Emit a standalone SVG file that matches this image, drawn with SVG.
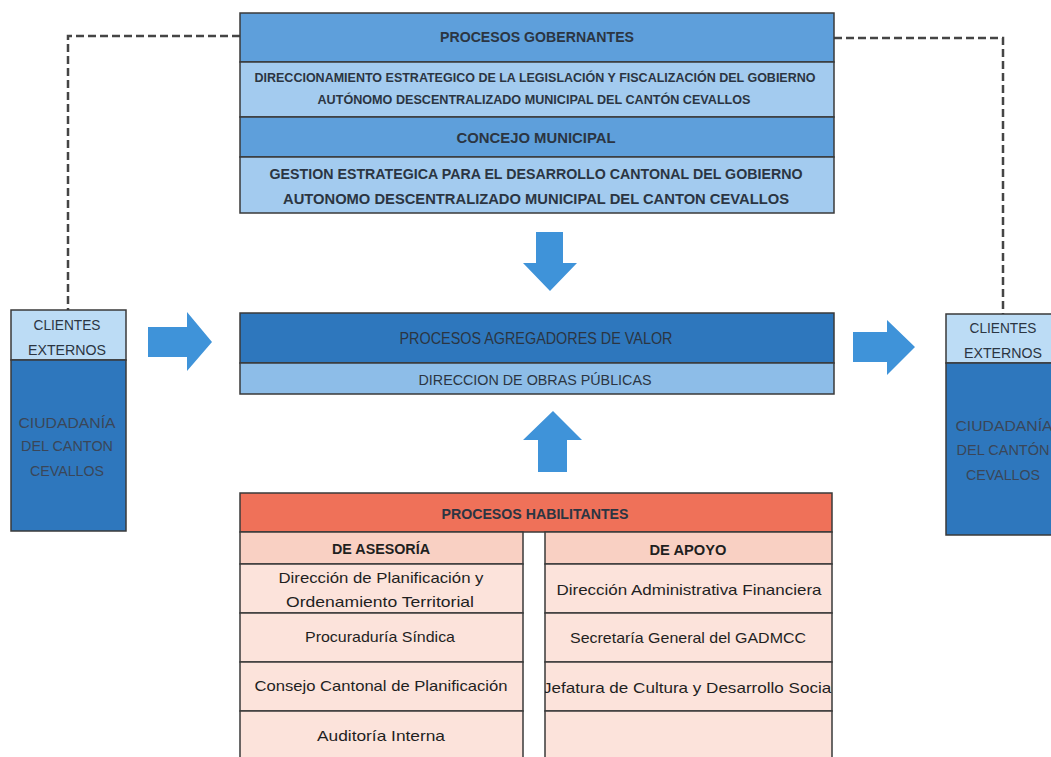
<svg xmlns="http://www.w3.org/2000/svg" width="1051" height="757" viewBox="0 0 1051 757">
<defs>
<style>
.b{stroke:#3a3a3a;stroke-width:1.5}
.t{font-family:"Liberation Sans","DejaVu Sans",sans-serif;text-anchor:middle;fill:#2b3542}
.bold{font-weight:bold}
.dash{fill:none;stroke:#454545;stroke-width:2.5;stroke-dasharray:8 4}
.arr{fill:#3f93d9}
.row{fill:#fce3db}
.sub{fill:#f9d0c3}
.tb{fill:#1f1f1f}
.ct{fill:#3a4658}
</style>
<clipPath id="cl"><rect x="545" y="662" width="287" height="49"/></clipPath>
</defs>
<rect width="1051" height="757" fill="#ffffff"/>

<g id="connectors">
<path class="dash" d="M240,36 H68 V310"/>
<path class="dash" d="M834,38 H1003 V314"/>
<polygon class="arr" points="536,232 563,232 563,263 577,263 550,291 523,263 536,263"/>
<polygon class="arr" points="538,472 567,472 567,440 582,440 553,411 523,440 538,440"/>
<polygon class="arr" points="148,327 187,327 187,312 212,342 187,371 187,357 148,357"/>
<polygon class="arr" points="853,332 887,332 887,320 915,347 887,375 887,362 853,362"/>
</g>

<g id="gobernantes">
<rect class="b" x="240" y="13" width="594" height="49" fill="#5e9fdb"/>
<rect class="b" x="240" y="62" width="594" height="55" fill="#a3cbef"/>
<rect class="b" x="240" y="117" width="594" height="40" fill="#5e9fdb"/>
<rect class="b" x="240" y="157" width="594" height="56" fill="#a3cbef"/>
<text class="t bold" x="537" y="42" font-size="14.5" textLength="194" lengthAdjust="spacingAndGlyphs">PROCESOS GOBERNANTES</text>
<text class="t bold" x="535" y="82" font-size="13.5" textLength="561" lengthAdjust="spacingAndGlyphs">DIRECCIONAMIENTO ESTRATEGICO DE LA LEGISLACIÓN Y FISCALIZACIÓN DEL GOBIERNO</text>
<text class="t bold" x="534" y="104" font-size="13.5" textLength="433" lengthAdjust="spacingAndGlyphs">AUTÓNOMO DESCENTRALIZADO MUNICIPAL DEL CANTÓN CEVALLOS</text>
<text class="t bold" x="536" y="143" font-size="15" textLength="159" lengthAdjust="spacingAndGlyphs">CONCEJO MUNICIPAL</text>
<text class="t bold" x="536" y="179" font-size="15.5" textLength="533" lengthAdjust="spacingAndGlyphs">GESTION ESTRATEGICA PARA EL DESARROLLO CANTONAL DEL GOBIERNO</text>
<text class="t bold" x="536" y="204" font-size="15.5" textLength="506" lengthAdjust="spacingAndGlyphs">AUTONOMO DESCENTRALIZADO MUNICIPAL DEL CANTON CEVALLOS</text>
</g>

<g id="agregadores">
<rect class="b" x="240" y="313" width="594" height="50" fill="#2e77bd"/>
<rect class="b" x="240" y="363" width="594" height="31" fill="#8dbde8"/>
<text class="t" x="536" y="344" font-size="16" textLength="273" lengthAdjust="spacingAndGlyphs">PROCESOS AGREGADORES DE VALOR</text>
<text class="t" x="535" y="385" font-size="15" textLength="233" lengthAdjust="spacingAndGlyphs">DIRECCION DE OBRAS PÚBLICAS</text>
</g>

<g id="clientes-izq">
<rect class="b" x="11" y="310" width="115" height="50" fill="#bcdcf5"/>
<rect class="b" x="11" y="360" width="115" height="171" fill="#2e77bd"/>
<text class="t" x="67" y="330" font-size="15" textLength="67" lengthAdjust="spacingAndGlyphs">CLIENTES</text>
<text class="t" x="67" y="355" font-size="15" textLength="78" lengthAdjust="spacingAndGlyphs">EXTERNOS</text>
<text class="t ct" x="67" y="428" font-size="15" textLength="97" lengthAdjust="spacingAndGlyphs">CIUDADANÍA</text>
<text class="t ct" x="67" y="451" font-size="15" textLength="92" lengthAdjust="spacingAndGlyphs">DEL CANTON</text>
<text class="t ct" x="67" y="476" font-size="15" textLength="74" lengthAdjust="spacingAndGlyphs">CEVALLOS</text>
</g>

<g id="clientes-der">
<rect class="b" x="946" y="314" width="116" height="49" fill="#bcdcf5"/>
<rect class="b" x="946" y="363" width="116" height="172" fill="#2e77bd"/>
<text class="t" x="1003" y="333" font-size="15" textLength="67" lengthAdjust="spacingAndGlyphs">CLIENTES</text>
<text class="t" x="1003" y="358" font-size="15" textLength="78" lengthAdjust="spacingAndGlyphs">EXTERNOS</text>
<text class="t ct" x="1004" y="431" font-size="15" textLength="97" lengthAdjust="spacingAndGlyphs">CIUDADANÍA</text>
<text class="t ct" x="1003" y="455" font-size="15" textLength="93" lengthAdjust="spacingAndGlyphs">DEL CANTÓN</text>
<text class="t ct" x="1003" y="480" font-size="15" textLength="74" lengthAdjust="spacingAndGlyphs">CEVALLOS</text>
</g>

<g id="habilitantes">
<rect class="b" x="240" y="493" width="592" height="39" fill="#ef7159"/>
<text class="t bold" x="535" y="519" font-size="15" fill="#3e5670" textLength="187" lengthAdjust="spacingAndGlyphs">PROCESOS HABILITANTES</text>
</g>

<g id="asesoria">
<rect class="b sub" x="240" y="532" width="283" height="32"/>
<rect class="b row" x="240" y="564" width="283" height="49"/>
<rect class="b row" x="240" y="613" width="283" height="49"/>
<rect class="b row" x="240" y="662" width="283" height="49"/>
<rect class="b row" x="240" y="711" width="283" height="50"/>
<text class="t bold tb" x="381" y="554" font-size="14.5" textLength="98" lengthAdjust="spacingAndGlyphs">DE ASESORÍA</text>
<text class="t tb" x="381" y="583" font-size="15" textLength="205" lengthAdjust="spacingAndGlyphs">Dirección de Planificación y</text>
<text class="t tb" x="380" y="607" font-size="15" textLength="188" lengthAdjust="spacingAndGlyphs">Ordenamiento Territorial</text>
<text class="t tb" x="380" y="642" font-size="15" textLength="150" lengthAdjust="spacingAndGlyphs">Procuraduría Síndica</text>
<text class="t tb" x="381" y="691" font-size="15" textLength="253" lengthAdjust="spacingAndGlyphs">Consejo Cantonal de Planificación</text>
<text class="t tb" x="381" y="741" font-size="15" textLength="128" lengthAdjust="spacingAndGlyphs">Auditoría Interna</text>
</g>

<g id="apoyo">
<rect class="b sub" x="545" y="532" width="287" height="32"/>
<rect class="b row" x="545" y="564" width="287" height="49"/>
<rect class="b row" x="545" y="613" width="287" height="49"/>
<rect class="b row" x="545" y="662" width="287" height="49"/>
<rect class="b row" x="545" y="711" width="287" height="50"/>
<text class="t bold tb" x="688" y="555" font-size="14.5" textLength="77" lengthAdjust="spacingAndGlyphs">DE APOYO</text>
<text class="t tb" x="689" y="595" font-size="15" textLength="265" lengthAdjust="spacingAndGlyphs">Dirección Administrativa Financiera</text>
<text class="t tb" x="688" y="643" font-size="15" textLength="236" lengthAdjust="spacingAndGlyphs">Secretaría General del GADMCC</text>
<text class="t tb" x="689" y="693" font-size="15" textLength="292" lengthAdjust="spacingAndGlyphs" clip-path="url(#cl)">Jefatura de Cultura y Desarrollo Social</text>
</g>
</svg>
